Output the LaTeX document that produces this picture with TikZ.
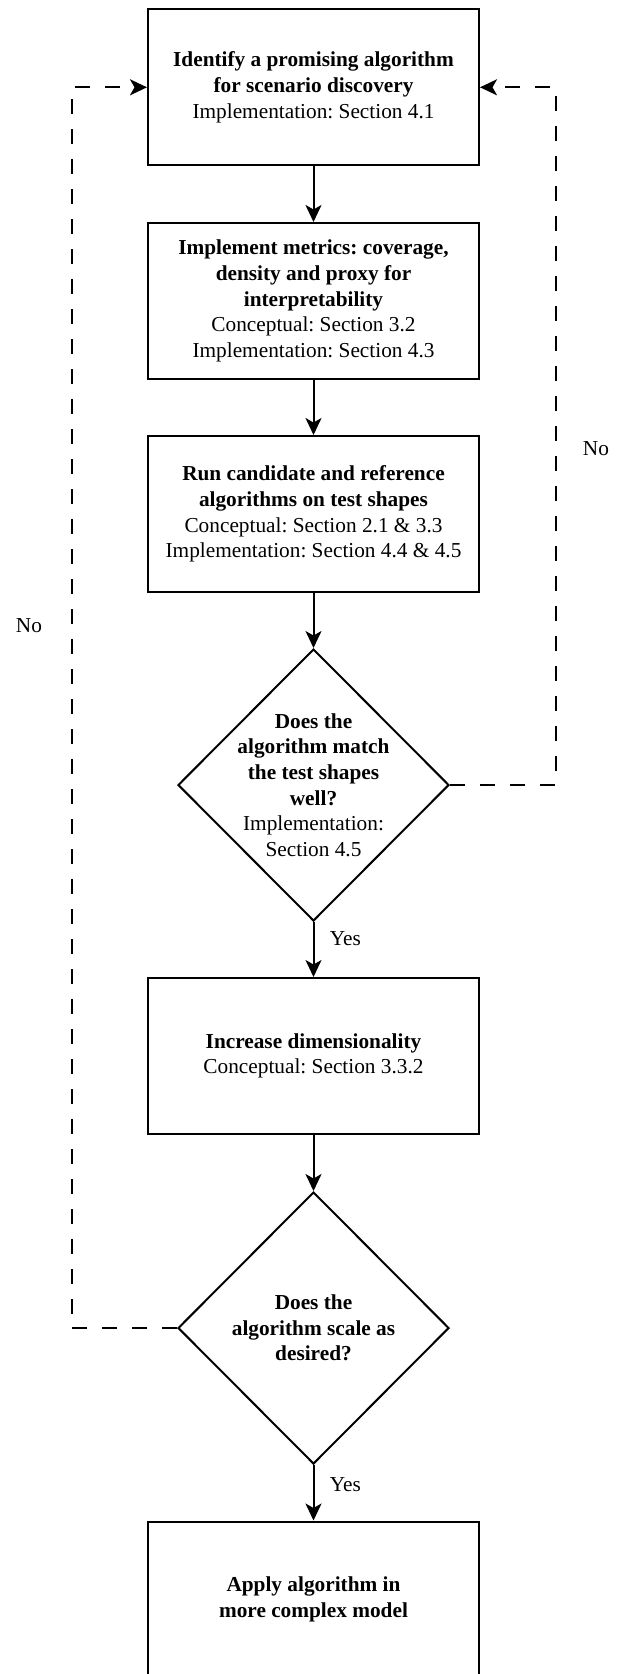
\documentclass[tikz,border=0pt]{standalone}
\usepackage{fontspec}
\setmainfont{Liberation Serif}
\usetikzlibrary{shapes.geometric,arrows.meta}
\frenchspacing
\begin{document}
\begin{tikzpicture}[x=1pt,y=-1pt,
	every node/.style={font=\fontsize{21.3}{25.6}\selectfont},
	box/.style={draw,line width=2pt,minimum width=331pt,minimum height=156pt,align=center,inner sep=0pt},
	decision/.style={draw,diamond,line width=2pt,minimum width=271pt,minimum height=272pt,inner sep=0pt},
	arr/.style={line width=2pt,-{Stealth[length=17pt,width=16pt,inset=4.5pt]}},
	noline/.style={arr,dash pattern=on 15pt off 15pt}]
	\useasboundingbox (0,0) rectangle (621,1674);
	\node[box] (find) at (313.5,87.3) {\textbf{Identify a promising algorithm}\\\textbf{for scenario discovery}\\Implementation: Section 4.1};
	\node[box] (metrics) at (313.5,301) {\textbf{Implement metrics: coverage,}\\\textbf{density and proxy for}\\\textbf{interpretability}\\Conceptual: Section 3.2\\Implementation: Section 4.3};
	\node[box] (run) at (313.5,514) {\textbf{Run candidate and reference}\\\textbf{algorithms on test shapes}\\Conceptual: Section 2.1 \& 3.3\\Implementation: Section 4.4 \& 4.5};
	\node[decision] (match) at (313.5,785) {};
	\node[align=center] (matchtext) at (match) {\textbf{Does the}\\\textbf{algorithm match}\\\textbf{the test shapes}\\\textbf{well?}\\Implementation:\\Section 4.5};
	\node[box] (dim) at (313.5,1056) {\textbf{Increase dimensionality}\\Conceptual: Section 3.3.2};
	\node[decision] (scale) at (313.5,1328) {};
	\node[align=center] (scaletext) at (scale) {\textbf{Does the}\\\textbf{algorithm scale as}\\\textbf{desired?}};
	\node[box] (apply) at (313.5,1599.5) {\textbf{Apply algorithm in}\\\textbf{more complex model}};
	\coordinate (rightcol) at (556,450);
	\coordinate (leftcol) at (71.5,650);
	\draw[arr] (find) -- (metrics);
	\draw[arr] (metrics) -- (run);
	\draw[arr] (run) -- (match);
	\draw[arr] (match) -- (dim) node[pos=0.3,right=12pt] (yesone) {Yes};
	\draw[arr] (dim) -- (scale);
	\draw[arr] (scale) -- (apply) node[pos=0.35,right=12pt] (yestwo) {Yes};
	\draw[noline] (match.east) -| (rightcol) |- (find.east);
	\draw[noline] (scale.west) -| (leftcol) |- (find.west);
	\node (noright) at (596,449) {No};
	\node (noleft) at (29,626) {No};
\end{tikzpicture}
\end{document}
